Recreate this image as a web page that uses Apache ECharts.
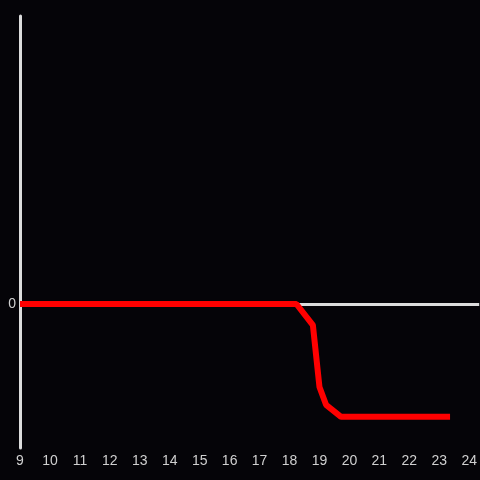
<!DOCTYPE html>
<html><head><meta charset="utf-8">
<script src="https://cdn.jsdelivr.net/npm/echarts@6/dist/echarts.min.js"></script>
<style>html,body{margin:0;padding:0;background:#050408}#c{width:480px;height:480px}</style>
</head><body><div id="c"></div>
<script>
const xValues = [9, 18.23, 18.78, 19.0, 19.22, 19.72, 23.36];
const yValues = [0, 0, -0.44, -1.73, -2.1, -2.35, -2.35];
const xTicks = [9,10,11,12,13,14,15,16,17,18,19,20,21,22,23,24];

const chart = echarts.init(document.getElementById('c'));
chart.setOption({
  backgroundColor: '#050408',
  animation: false,
  grid: {left: 20, right: 0, top: 16, bottom: 32},
  xAxis: {
    type: 'value', min: 9, max: 24 + 1/3, interval: 1,
    axisLine: {show: false},
    axisTick: {show: false},
    splitLine: {show: false},
    axisLabel: {color: '#d0d0d0', fontSize: 14, fontFamily: 'Liberation Sans', margin: 6,
      showMaxLabel: false,
      formatter: v => xTicks.includes(Math.round(v*1000)/1000) ? String(v) : ''}
  },
  yAxis: {
    type: 'value', min: -3, max: 6, interval: 3,
    axisLine: {show: true, onZero: false, lineStyle: {color: '#dcdcdc', width: 3}},
    axisTick: {show: false},
    splitLine: {show: false},
    axisLabel: {color: '#d0d0d0', fontSize: 14, fontFamily: 'Liberation Sans', margin: 4,
      formatter: v => v === 0 ? '0' : ''}
  },
  series: [{
    type: 'line',
    data: [],
    z: 1,
    markLine: {
      silent: true, symbol: 'none', label: {show: false},
      lineStyle: {color: '#dcdcdc', width: 3, type: 'solid'},
      data: [{yAxis: 0}]
    }
  }, {
    type: 'line',
    data: xValues.map((x, i) => [x, yValues[i]]),
    showSymbol: false,
    lineStyle: {color: '#ff0000', width: 6},
    z: 5
  }]
});
</script></body></html>
